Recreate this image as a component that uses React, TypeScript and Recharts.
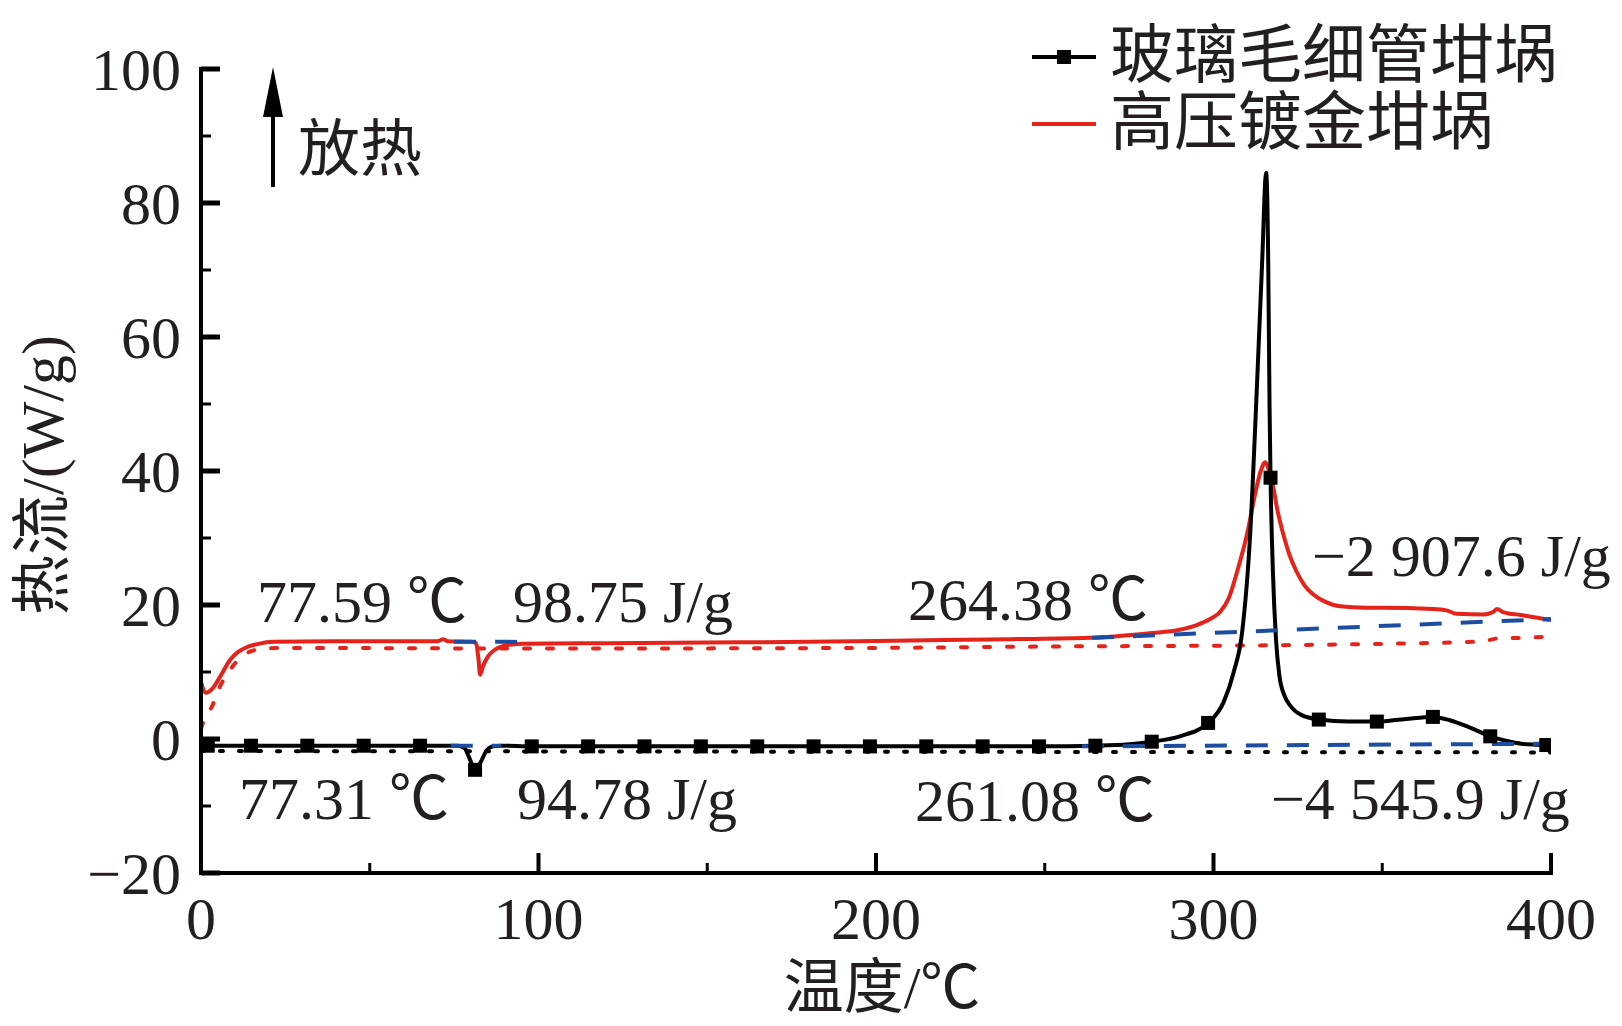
import React from 'react';
import { LineChart, Line, XAxis, YAxis } from 'recharts';

// ---- data ----
const SERIES_NAMES = ['玻璃毛细管坩埚', '高压镀金坩埚'];

const GLASS_T = [0, 2, 14.8, 31.5, 48.2, 64.9, 76, 78, 79.5, 81.2, 82.8, 84.5, 86.5, 89, 98, 114.7, 131.4, 148.1, 164.8, 181.5, 198.2, 214.9, 231.6, 248.3, 265, 275, 281.7, 290, 298.4, 303, 306, 308.5, 310.8, 312.9, 314.4, 315.6, 316.2, 316.6, 316.9, 317.6, 318.5, 319.5, 321, 323, 326, 331.2, 340, 348.4, 357, 365, 370, 376, 382, 388, 393, 398.6, 400];
const GLASS_V = [-0.9, -1.0, -1.0, -1.0, -1.0, -1.0, -1.0, -1.3, -2.8, -4.6, -3.5, -1.8, -1.1, -1.0, -1.1, -1.1, -1.1, -1.1, -1.1, -1.1, -1.1, -1.1, -1.1, -1.1, -1.0, -0.8, -0.4, 0.4, 2.4, 5.5, 10, 16, 30, 53, 71, 84.5, 72, 50, 39, 25, 15, 9.5, 6.5, 4.8, 3.6, 2.9, 2.6, 2.6, 3.0, 3.3, 2.8, 1.7, 0.4, -0.4, -0.8, -0.9, -0.9];
const GLASS_MARKER_T = [2, 14.8, 31.5, 48.2, 64.9, 81.2, 98, 114.7, 131.4, 148.1, 164.8, 181.5, 198.2, 214.9, 231.6, 248.3, 265, 281.7, 298.4, 316.9, 331.2, 348.4, 365, 382, 398.6];

const GOLD_T = [0, 1.5, 3.5, 6, 8.6, 11, 13.5, 17, 21.4, 40, 60, 70, 71.8, 73, 80, 81.5, 82.2, 82.7, 83.5, 85, 87, 89, 92, 95.4, 120, 150, 180, 210, 240, 263, 281, 290, 295, 299, 302, 304.5, 307, 310, 312.3, 314, 315.3, 316.5, 317.7, 319, 320.6, 322.5, 324.6, 327, 329.5, 333, 337.5, 345, 350, 365, 369, 372, 380, 383, 384, 386, 391, 396, 400];
const GOLD_V = [8.5, 6.9, 7.6, 9.6, 11.8, 13.0, 13.7, 14.2, 14.5, 14.6, 14.6, 14.6, 14.9, 14.6, 14.5, 14.3, 12, 9.6, 10.8, 12.3, 13.3, 13.8, 14.1, 14.2, 14.3, 14.4, 14.5, 14.7, 14.9, 15.1, 15.8, 16.3, 17.0, 17.9, 19.0, 21, 25, 30.7, 36.5, 40, 41.3, 40, 37.6, 34, 30.7, 27.5, 25, 22.9, 21.6, 20.5, 19.8, 19.6, 19.6, 19.4, 19.2, 18.7, 18.6, 19.0, 19.4, 18.9, 18.5, 18.1, 17.7];

const GOLD_DOT_T = [0, 1, 3.2, 5.6, 8.6, 12.5, 17.5, 23.4, 100, 200, 250, 320, 350, 370, 380, 384, 391, 400];
const GOLD_DOT_V = [1.5, 3, 4.8, 7.8, 10.3, 12.5, 13.4, 13.6, 13.5, 13.6, 13.8, 14.0, 14.2, 14.4, 14.6, 15.0, 15.1, 15.3];

const GLASS_DOT_T = [0, 400];
const GLASS_DOT_V = [-1.8, -2.0];

const BASE_GOLD_A_T = [75, 96];
const BASE_GOLD_A_V = [14.5, 14.5];
const BASE_GOLD_B_T = [264, 400];
const BASE_GOLD_B_V = [15.1, 17.9];
const BASE_GLASS_A_T = [74, 89];
const BASE_GLASS_A_V = [-1.0, -1.0];
const BASE_GLASS_B_T = [261, 400];
const BASE_GLASS_B_V = [-1.1, -0.7];

const X_TICKS = [0, 50, 100, 150, 200, 250, 300, 350, 400];
const X_LABELS = [0, 100, 200, 300, 400];
const Y_TICKS = [-20, -10, 0, 10, 20, 30, 40, 50, 60, 70, 80, 90, 100];
const Y_LABELS = [-20, 0, 20, 40, 60, 80, 100];

const ANNOTATIONS = [
  { text: '77.59 ℃', x: 257, y: 622 },
  { text: '98.75 J/g', x: 513, y: 622 },
  { text: '264.38 ℃', x: 908, y: 620 },
  { text: '−2 907.6 J/g', x: 1312, y: 576 },
  { text: '77.31 ℃', x: 239, y: 819 },
  { text: '94.78 J/g', x: 517, y: 819 },
  { text: '261.08 ℃', x: 915, y: 821 },
  { text: '−4 545.9 J/g', x: 1271, y: 819 },
];

const zip = (ts: number[], vs: number[]) => ts.map((t, i) => ({ t, v: vs[i] }));

const glassData = GLASS_T.map((t, i) => ({ t, v: GLASS_V[i], m: GLASS_MARKER_T.includes(t) }));
const goldData = zip(GOLD_T, GOLD_V);
const goldDot = zip(GOLD_DOT_T, GOLD_DOT_V);
const glassDot = zip(GLASS_DOT_T, GLASS_DOT_V);
const baseGoldA = zip(BASE_GOLD_A_T, BASE_GOLD_A_V);
const baseGoldB = zip(BASE_GOLD_B_T, BASE_GOLD_B_V);
const baseGlassA = zip(BASE_GLASS_A_T, BASE_GLASS_A_V);
const baseGlassB = zip(BASE_GLASS_B_T, BASE_GLASS_B_V);

const RED = '#e5231b';
const BLUE = '#1c4da1';
const TXT = '#231f20';
const SERIF = "'Liberation Serif', 'Times New Roman', 'Noto Sans CJK SC', serif";
const CJK = "'Liberation Serif', 'Noto Sans CJK SC', sans-serif";

const W = 1622;
const H = 1026;

const XTick = (props: any) => {
  const { x, y, payload } = props;
  const major = X_LABELS.includes(payload.value);
  return (
    <g>
      <line x1={x} x2={x} y1={y} y2={y - (major ? 20 : 10)} stroke="#000" strokeWidth={major ? 4 : 3} />
      {major && (
        <text x={x} y={y + 66} textAnchor="middle" fontFamily={SERIF} fontSize={60} fill={TXT}>
          {payload.value}
        </text>
      )}
    </g>
  );
};

const YTick = (props: any) => {
  const { x, y, payload } = props;
  const major = Y_LABELS.includes(payload.value);
  const label = payload.value < 0 ? '−' + Math.abs(payload.value) : String(payload.value);
  return (
    <g>
      <line x1={x} x2={x + (major ? 19 : 10)} y1={y} y2={y} stroke="#000" strokeWidth={major ? 5 : 3} />
      {major && (
        <text x={x - 20} y={y + 21} textAnchor="end" fontFamily={SERIF} fontSize={60} fill={TXT}>
          {label}
        </text>
      )}
    </g>
  );
};

const GlassDot = (props: any) => {
  const { cx, cy, payload, index } = props;
  if (!payload || !payload.m) return <g key={`d${index}`} />;
  return <rect key={`d${index}`} x={cx - 7} y={cy - 7} width={14} height={14} fill="#000" />;
};

export default function App() {
  return (
    <div style={{ position: 'absolute', left: 0, top: 0, width: W, height: H, background: '#fff' }}>
      <LineChart width={W} height={H} margin={{ top: 69, right: 71, left: 200, bottom: 152 }}>
        <XAxis
          dataKey="t"
          type="number"
          domain={[0, 400]}
          ticks={X_TICKS}
          allowDataOverflow
          height={1}
          tickSize={0}
          tickMargin={0}
          tickLine={false}
          tick={<XTick />}
          axisLine={{ stroke: '#000', strokeWidth: 4, strokeLinecap: 'square' }}
          interval={0}
        />
        <YAxis
          dataKey="v"
          type="number"
          domain={[-20, 100]}
          ticks={Y_TICKS}
          allowDataOverflow
          width={1}
          tickSize={0}
          tickMargin={0}
          tickLine={false}
          tick={<YTick />}
          axisLine={{ stroke: '#000', strokeWidth: 4, strokeLinecap: 'square' }}
          interval={0}
        />
        <Line data={goldDot} dataKey="v" type="monotone" stroke={RED} strokeWidth={4} strokeDasharray="6 17" strokeLinecap="round" dot={false} isAnimationActive={false} />
        <Line data={glassDot} dataKey="v" type="linear" stroke="#000" strokeWidth={4} strokeDasharray="3 16" strokeLinecap="round" dot={false} isAnimationActive={false} />
        <Line data={goldData} dataKey="v" type="monotone" stroke={RED} strokeWidth={4} dot={false} isAnimationActive={false} />
        <Line data={glassData} dataKey="v" type="monotone" stroke="#000" strokeWidth={4} dot={<GlassDot />} isAnimationActive={false} />
        <Line data={baseGoldA} dataKey="v" type="linear" stroke={BLUE} strokeWidth={4} strokeDasharray="22 19" dot={false} isAnimationActive={false} />
        <Line data={baseGoldB} dataKey="v" type="linear" stroke={BLUE} strokeWidth={4} strokeDasharray="22 19" dot={false} isAnimationActive={false} />
        <Line data={baseGlassA} dataKey="v" type="linear" stroke={BLUE} strokeWidth={4} strokeDasharray="22 19" dot={false} isAnimationActive={false} />
        <Line data={baseGlassB} dataKey="v" type="linear" stroke={BLUE} strokeWidth={4} strokeDasharray="22 19" dot={false} isAnimationActive={false} />
      </LineChart>
      <svg width={W} height={H} style={{ position: 'absolute', left: 0, top: 0, pointerEvents: 'none' }}>
        {ANNOTATIONS.map((a) => (
          <text key={a.text} x={a.x} y={a.y} fontFamily={SERIF} fontSize={60} fill={TXT}>
            {a.text}
          </text>
        ))}
        {/* legend */}
        <line x1={1032} x2={1096} y1={57} y2={57} stroke="#000" strokeWidth={4} />
        <rect x={1057} y={50} width={14} height={14} fill="#000" />
        <text x={1110} y={77} fontFamily={CJK} fontSize={64} fill={TXT}>{SERIES_NAMES[0]}</text>
        <line x1={1032} x2={1096} y1={124} y2={124} stroke={RED} strokeWidth={4} />
        <text x={1110} y={144} fontFamily={CJK} fontSize={64} fill={TXT}>{SERIES_NAMES[1]}</text>
        {/* exotherm arrow */}
        <line x1={273} x2={273} y1={187} y2={112} stroke="#000" strokeWidth={4} />
        <polygon points="263,117 283,117 273,67" fill="#000" />
        <text x={298} y={171} fontFamily={CJK} fontSize={62} fill={TXT}>放热</text>
        {/* axis titles */}
        <text x={43} y={475} transform="rotate(-90 43 475)" textAnchor="middle" dominantBaseline="central" fontFamily={CJK} fontSize={60} fill={TXT}>
          热流/(W/g)
        </text>
        <text x={882} y={1008} textAnchor="middle" fontFamily={CJK} fontSize={60} fill={TXT}>
          温度/℃
        </text>
      </svg>
    </div>
  );
}
